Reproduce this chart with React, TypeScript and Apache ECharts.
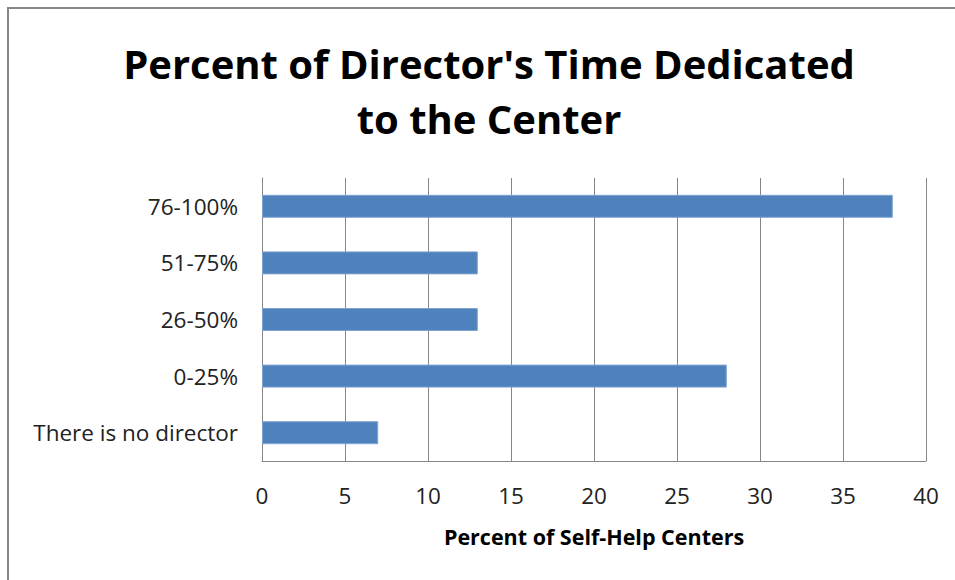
import React, { useEffect, useRef } from "react";
import * as echarts from "echarts";

const categories = ["76-100%", "51-75%", "26-50%", "0-25%", "There is no director"];
const values = [38, 13, 13, 28, 7];
const xTicks = [0, 5, 10, 15, 20, 25, 30, 35, 40];

const FONT = "'Open Sans', Lato, sans-serif";

export default function App() {
  const ref = useRef<HTMLDivElement>(null);
  useEffect(() => {
    if (!ref.current) return;
    const chart = echarts.init(ref.current, undefined, { renderer: "svg" });
    chart.setOption({
      animation: false,
      backgroundColor: "#ffffff",
      title: {
        text: "Percent of Director's Time Dedicated\nto the Center",
        left: 484,
        textAlign: "center",
        top: 31,
        textStyle: {
          fontFamily: FONT,
          fontWeight: "bold",
          fontSize: 40,
          lineHeight: 55,
          color: "#000000",
        },
      },
      graphic: [
        {
          type: "rect",
          shape: { x: 8, y: 8, width: 1100, height: 1100 },
          style: { fill: "none", stroke: "#878787", lineWidth: 2 },
          silent: true,
        },
      ],
      grid: { left: 262, right: 29, top: 178, bottom: 119, containLabel: false },
      xAxis: {
        type: "value",
        min: xTicks[0],
        max: xTicks[xTicks.length - 1],
        interval: 5,
        name: "Percent of Self-Help Centers",
        nameLocation: "middle",
        nameGap: 64,
        nameTextStyle: { fontFamily: FONT, fontWeight: "bold", fontSize: 21.5, color: "#000" },
        axisLine: { show: true, lineStyle: { color: "#868686", width: 1 } },
        axisTick: { show: false },
        axisLabel: { fontFamily: FONT, fontSize: 22.5, color: "#222", margin: 23 },
        splitLine: { show: true, lineStyle: { color: "#868686", width: 1 } },
      },
      yAxis: {
        type: "category",
        data: categories,
        inverse: true,
        axisLine: { show: true, lineStyle: { color: "#868686", width: 1 } },
        axisTick: { show: false },
        axisLabel: { fontFamily: FONT, fontSize: 22.5, color: "#222", margin: 24 },
        splitLine: { show: false },
      },
      series: [
        {
          type: "bar",
          data: values,
          barWidth: 23,
          itemStyle: { color: "#4F81BD", borderColor: "#7FA4D2", borderWidth: 1 },
        },
      ],
    });
    return () => chart.dispose();
  }, []);
  return (
    <div
      ref={ref}
      style={{ position: "absolute", left: 0, top: 0, width: 955, height: 580 }}
    />
  );
}
